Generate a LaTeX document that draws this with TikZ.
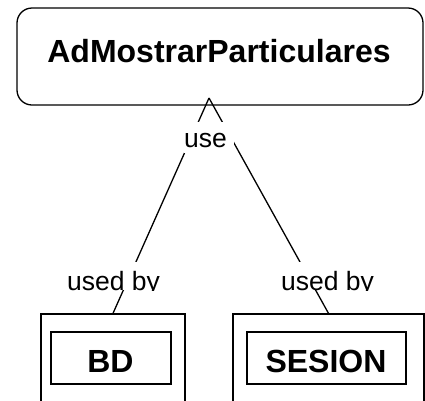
\documentclass[tikz,border=0pt]{standalone}
\usepackage{fontspec}
\setmainfont{Liberation Sans}
\begin{document}
\begin{tikzpicture}[x=1pt, y=-1pt, line width=1.3pt,
  box/.style={draw, rectangle, inner sep=0pt},
  title/.style={font=\fontsize{32}{38}\selectfont\bfseries, inner sep=0pt},
  lbl/.style={font=\fontsize{26.5}{30}\selectfont, inner sep=0pt}]
\useasboundingbox (0,0) rectangle (425,400);
\clip (0,0) rectangle (425,400);

% controller box
\node[box, rounded corners=15pt, minimum width=406pt, minimum height=97pt] (ctrl) at (220,56.5) {};
\node[title, anchor=base] (ctrlname) at (219,62) {AdMostrarParticulares};

% used components
\node[box, minimum width=144pt, minimum height=130pt] (bd) at (113,379) {};
\node[box, minimum width=120pt, minimum height=52pt] (bdin) at (111,358) {};
\node[title, anchor=base] (bdname) at (110.5,372) {BD};

\node[box, minimum width=191pt, minimum height=130pt] (ses) at (328.5,379) {};
\node[box, minimum width=159pt, minimum height=52pt] (sesin) at (326.5,358) {};
\node[title, anchor=base] (sesname) at (326,372) {SESION};

% usage connectors meeting at the tip
\coordinate (tip) at (209,98);
\draw (bd.north) -- (tip);
\draw (ses.north) -- (tip);

% role labels
\node[fill=white, minimum width=50pt, minimum height=31pt, inner sep=0pt] (usebg) at (209,137.5) {};
\node[lbl, anchor=base] (use) at (205.5,147) {use};

\begin{scope}
  \clip (62,262) rectangle (166,290);
  \fill[white] (62,262) rectangle (166,290);
  \node[lbl, anchor=base] (usedbd) at (113.5,290) {used by};
\end{scope}
\begin{scope}
  \clip (276,262) rectangle (380,290);
  \fill[white] (276,262) rectangle (380,290);
  \node[lbl, anchor=base] (usedses) at (327.5,290) {used by};
\end{scope}
\end{tikzpicture}
\end{document}
